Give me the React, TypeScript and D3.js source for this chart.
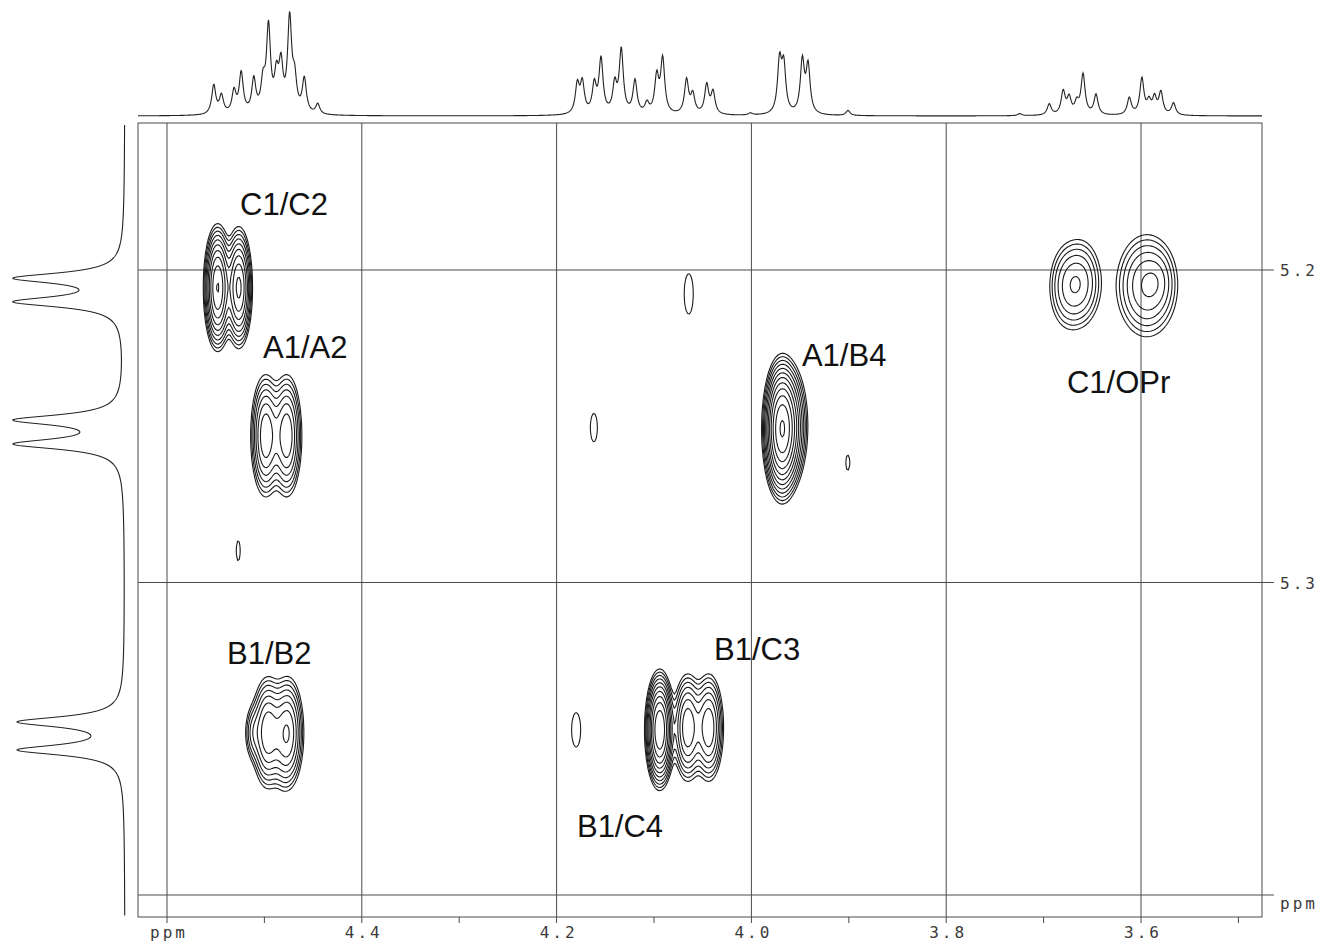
import React, { useMemo } from 'react';
import * as d3 from 'd3';

const W = 1321;
const H = 944;

// F2 axis (horizontal), ppm
const f2Ticks = [4.6, 4.4, 4.2, 4.0, 3.8, 3.6];
const f2TickLabels = ['ppm', '4.4', '4.2', '4.0', '3.8', '3.6'];
const f2MinorTicks = [4.5, 4.3, 4.1, 3.9, 3.7, 3.5];
// F1 axis (vertical), ppm
const f1Ticks = [5.2, 5.3, 5.4];
const f1TickLabels = ['5.2', '5.3', 'ppm'];

// 1D projection on top (F2): shifts and intensities
const topShifts = [
  4.552, 4.5441, 4.5312, 4.5238, 4.5109, 4.5014, 4.4958, 4.4876, 4.483, 4.4741, 4.469, 4.459, 4.4452,
  4.1787, 4.1736, 4.1613, 4.1544, 4.1403, 4.1336, 4.1195, 4.1072, 4.0972, 4.0911, 4.0666, 4.0602, 4.0459, 4.0394, 4.0009,
  3.9711, 3.9668, 3.9477, 3.9418, 3.9008, 3.7244,
  3.6942, 3.6799, 3.6738, 3.666, 3.6595, 3.6462, 3.612, 3.5991, 3.5918, 3.5861, 3.5796, 3.5666,
];
const topHeights = [
  29, 18, 22, 40, 33, 28, 84, 33, 44, 92, 30, 34, 10,
  29, 30, 28, 54, 28, 63, 33, 10, 36, 54, 34, 19, 29, 22, 2,
  51, 46, 52, 47, 5, 2,
  11, 23, 16, 11, 40, 20, 17, 36, 12, 16, 22, 12,
];

// 1D projection on the left (F1): anomeric doublets
const leftShifts = [5.2026, 5.2102, 5.248, 5.2557, 5.3446, 5.3536];
const leftHeights = [105, 105, 105, 105, 103, 103];

// 2D cross peak components: F2 shift, F1 shift, intensity, F2 width, F1 width (ppm)
const peakF2 = [
  4.5487, 4.5271, // C1/C2
  4.4994, 4.4778, // A1/A2
  4.4973, 4.4768, 4.5127, // B1/B2
  3.9696, 3.9583, // A1/B4
  4.0949, // B1/C4
  4.0661, 4.0446, // B1/C3
  3.676, 3.6606, // C1/OPr left
  3.5948, 3.582, // C1/OPr right
  4.0651, 4.1625, 3.9018, 4.1807, 4.4819, 4.5276, // weak
];
const peakF1 = [
  5.2054, 5.2054,
  5.2528, 5.2528,
  5.3478, 5.3478, 5.3478,
  5.2506, 5.2496,
  5.3469,
  5.3462, 5.3462,
  5.2051, 5.2038,
  5.2048, 5.2032,
  5.2074, 5.2502, 5.2614, 5.3469, 5.3522, 5.2896,
];
const peakAmp = [
  21, 16,
  10, 10,
  10, 10, 2.5,
  40, 6,
  29,
  10, 10,
  3.6, 3.6,
  5.6, 1.0,
  1.2, 1.2, 1.2, 1.2, 1.2, 1.2,
];
const peakWx = [
  0.006, 0.006,
  0.0072, 0.0072,
  0.0077, 0.0077, 0.005,
  0.0076, 0.008,
  0.006,
  0.0071, 0.0071,
  0.0113, 0.0113,
  0.0168, 0.008,
  0.0077, 0.006, 0.0034, 0.0077, 0.006, 0.0034,
];
const peakWy = [
  0.0083, 0.0083,
  0.0091, 0.0091,
  0.0083, 0.0083, 0.005,
  0.0088, 0.009,
  0.0075,
  0.008, 0.008,
  0.0077, 0.0077,
  0.0088, 0.005,
  0.0107, 0.0075, 0.004, 0.0091, 0.008, 0.0053,
];

// cross peak assignments and where their labels sit (ppm)
const labelText = ['C1/C2', 'A1/A2', 'A1/B4', 'C1/OPr', 'B1/B2', 'B1/C3', 'B1/C4'];
const labelF2 = [4.525, 4.5014, 3.9481, 3.676, 4.5384, 4.0384, 4.1791];
const labelF1 = [5.1824, 5.2282, 5.2307, 5.2394, 5.3261, 5.3248, 5.3814];

const LEVELS = d3.range(12).map(k => Math.pow(1.4, k));

export default function App() {
  const left = 138, right = 1262, top = 123, bottom = 917;
  const x = d3.scaleLinear().domain([4.6, 3.6]).range([167, 1141]);
  const y = d3.scaleLinear().domain([5.2, 5.4]).range([270, 895]);
  const topY = d3.scaleLinear().domain([0, 100]).range([116, 16]);
  const leftX = d3.scaleLinear().domain([0, 100]).range([125, 25]);

  const contourPaths = useMemo(() => {
    const step = 1.5;
    const nx = Math.ceil((right - left) / step) + 1;
    const ny = Math.ceil((bottom - top) / step) + 1;
    const values = new Float64Array(nx * ny);
    const xs = d3.range(nx).map(i => x.invert(left + i * step));
    const ys = d3.range(ny).map(j => y.invert(top + j * step));
    peakF2.forEach((cx, k) => {
      const cy = peakF1[k], a = peakAmp[k], sx = peakWx[k], sy = peakWy[k];
      const i0 = Math.max(0, Math.floor((x(cx + 4.5 * sx) - left) / step));
      const i1 = Math.min(nx - 1, Math.ceil((x(cx - 4.5 * sx) - left) / step));
      const j0 = Math.max(0, Math.floor((y(cy - 4.5 * sy) - top) / step));
      const j1 = Math.min(ny - 1, Math.ceil((y(cy + 4.5 * sy) - top) / step));
      for (let j = j0; j <= j1; j++) {
        const dy = (ys[j] - cy) / sy;
        const ey = Math.exp(-0.5 * dy * dy);
        for (let i = i0; i <= i1; i++) {
          const dx = (xs[i] - cx) / sx;
          values[j * nx + i] += a * ey * Math.exp(-0.5 * dx * dx);
        }
      }
    });
    const contours = d3.contours().size([nx, ny]).thresholds(LEVELS)(Array.from(values));
    const path = d3.geoPath(d3.geoIdentity().scale(step).translate([left, top]));
    return contours.map(c => path(c) || '');
  }, []);

  const topPath = useMemo(() => {
    const g = 0.0025;
    const pts = d3.range(left, right + 0.01, 0.5).map(px => {
      const p = x.invert(px);
      let v = 0;
      topShifts.forEach((s, k) => {
        const d = (p - s) / g;
        v += topHeights[k] / (1 + d * d);
      });
      return [px, topY(v)] as [number, number];
    });
    return d3.line()(pts) || '';
  }, []);

  const leftPath = useMemo(() => {
    const g = 0.002;
    const pts = d3.range(125, 916, 0.5).map(py => {
      const p = y.invert(py);
      let v = 0;
      leftShifts.forEach((s, k) => {
        const d = (p - s) / g;
        v += leftHeights[k] / (1 + d * d);
      });
      return [leftX(v), py] as [number, number];
    });
    return d3.line()(pts) || '';
  }, []);

  const gridColor = '#4a4a4a';
  const axisFont = {
    fontFamily: '"DejaVu Sans Mono", monospace',
    fontSize: 16,
    fill: '#3a3a3a',
    letterSpacing: 3,
  };

  return (
    <svg width={W} height={H} style={{ position: 'absolute', left: 0, top: 0, background: '#fff' }}>
      <rect x={0} y={0} width={W} height={H} fill="#fff" />
      <defs>
        <clipPath id="plot-clip">
          <rect x={left} y={top} width={right - left} height={bottom - top} />
        </clipPath>
      </defs>

      {/* frame */}
      <rect x={left} y={top} width={right - left} height={bottom - top} fill="none" stroke={gridColor} strokeWidth={1} />

      {/* vertical grid + ticks */}
      {f2Ticks.map(t => (
        <line key={'v' + t} x1={x(t)} x2={x(t)} y1={top} y2={bottom + 6} stroke={gridColor} strokeWidth={1} />
      ))}
      {f2MinorTicks.map(t => (
        <line key={'m' + t} x1={x(t)} x2={x(t)} y1={bottom} y2={bottom + 6} stroke={gridColor} strokeWidth={1} />
      ))}
      {f2Ticks.map((t, i) => (
        <text key={'tl' + t} x={x(t) + 2} y={938} textAnchor="middle" style={axisFont}>
          {f2TickLabels[i]}
        </text>
      ))}

      {/* horizontal grid + ticks */}
      {f1Ticks.map(t => (
        <line key={'h' + t} x1={left} x2={right + 12} y1={y(t)} y2={y(t)} stroke={gridColor} strokeWidth={1} />
      ))}
      {f1Ticks.map((t, i) => (
        <text key={'rl' + t} x={1280} y={i === 2 ? y(t) + 14 : y(t) + 6} style={axisFont}>
          {f1TickLabels[i]}
        </text>
      ))}

      {/* projections */}
      <path d={topPath} fill="none" stroke="#222" strokeWidth={1.1} />
      <path d={leftPath} fill="none" stroke="#222" strokeWidth={1.1} />

      {/* contours */}
      <g clipPath="url(#plot-clip)">
        {contourPaths.map((d, i) => (
          <path key={i} d={d} fill="none" stroke="#1a1a1a" strokeWidth={1.1} />
        ))}
      </g>

      {/* assignments */}
      {labelText.map((t, i) => (
        <text
          key={t}
          x={x(labelF2[i])}
          y={y(labelF1[i])}
          style={{ fontFamily: '"Liberation Sans", Arial, sans-serif', fontSize: 31, fill: '#111' }}
        >
          {t}
        </text>
      ))}
    </svg>
  );
}
